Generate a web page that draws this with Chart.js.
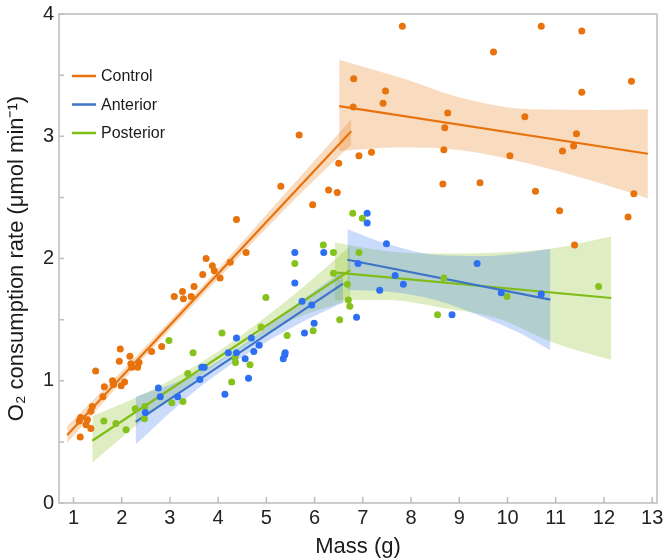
<!DOCTYPE html>
<html>
<head>
<meta charset="utf-8">
<script src="https://cdn.jsdelivr.net/npm/chart.js@4.4.0/dist/chart.umd.min.js"></script>
<style>
  html, body { margin: 0; padding: 0; background: #fff; }
</style>
</head>
<body>
<canvas id="chart" width="664" height="560"></canvas>
<script>
// scatter values: mass (g) and O2 rate
let controlMass = [1.14,1.12,1.15,1.26,1.29,1.36,1.36,1.39,1.46,1.61,1.64,1.81,1.83,1.95,1.97,1.99,2.06,2.17,2.19,2.21,2.33,2.36,2.62,2.83,3.09,3.26,3.28,3.44,3.50,3.68,3.75,3.88,3.92,4.04,4.25,4.38,4.58,5.30,5.68,5.96,6.29,6.47,6.50,6.80,6.81,6.92,7.18,7.42,7.47,7.82,8.66,8.68,8.70,8.76,9.43,9.71,10.05,10.36,10.58,10.70,11.08,11.14,11.37,11.39,11.43,11.54,11.54,12.50,12.57,12.62];
let controlRate = [0.54,0.67,0.70,0.64,0.68,0.75,0.61,0.79,1.08,0.87,0.95,1.00,0.97,1.16,1.26,0.96,0.99,1.20,1.14,1.11,1.11,1.15,1.24,1.28,1.69,1.73,1.67,1.69,1.77,1.87,2.00,1.94,1.90,1.84,1.97,2.32,2.05,2.59,3.01,2.44,2.56,2.54,2.78,3.24,3.47,2.84,2.87,3.27,3.37,3.90,2.61,2.89,3.07,3.19,2.62,3.69,2.84,3.16,2.55,3.90,2.39,2.88,2.92,2.11,3.02,3.86,3.36,2.34,3.45,2.53];

let anteriorMass = [2.49,2.76,2.80,3.16,3.62,3.66,3.71,4.14,4.21,4.38,4.38,4.56,4.63,4.69,4.74,4.85,5.35,5.38,5.39,5.59,5.59,5.74,5.79,5.94,5.99,6.19,6.87,6.90,7.09,7.09,7.35,7.49,7.67,7.84,8.85,9.37,9.87,10.70];
let anteriorRate = [0.74,0.94,0.87,0.87,1.01,1.11,1.11,0.89,1.23,1.23,1.35,1.18,1.02,1.35,1.24,1.29,1.18,1.21,1.23,1.80,2.05,1.65,1.39,1.62,1.47,2.05,1.52,1.96,2.37,2.29,1.74,2.12,1.86,1.79,1.54,1.96,1.72,1.71];

let posteriorMass = [1.63,1.88,2.09,2.28,2.47,2.48,2.98,3.04,3.27,3.37,3.48,4.08,4.28,4.35,4.36,4.66,4.89,4.99,5.43,5.59,5.97,6.18,6.39,6.39,6.52,6.68,6.70,6.73,6.79,6.92,6.99,8.55,8.68,9.99,11.89];
let posteriorRate = [0.67,0.65,0.60,0.77,0.69,0.79,1.33,0.82,0.83,1.06,1.23,1.39,0.99,1.19,1.15,1.13,1.44,1.68,1.37,1.96,1.41,2.11,2.05,1.88,1.50,1.79,1.66,1.61,2.37,2.05,2.33,1.54,1.84,1.69,1.77];

// fitted lines (two segments per group), end points
let controlFit1X = [0.87, 6.76],  controlFit1Y = [0.556, 3.04];
let controlFit2X = [6.51, 12.91], controlFit2Y = [3.246, 2.857];
let anteriorFit1X = [2.29, 6.59], anteriorFit1Y = [0.664, 1.795];
let anteriorFit2X = [6.68, 10.89], anteriorFit2Y = [1.99, 1.664];
let posteriorFit1X = [1.39, 6.74], posteriorFit1Y = [0.509, 1.905];
let posteriorFit2X = [6.40, 12.15], posteriorFit2Y = [1.886, 1.677];

// confidence bands, read at a few masses
let controlBand1X = [0.87, 2.0, 3.8, 5.5, 6.76];
let controlBand1Hi = [0.63, 1.08, 1.83, 2.58, 3.14];
let controlBand1Lo = [0.49, 0.99, 1.75, 2.45, 2.93];
let controlBand2X = [6.51, 7.77, 9.08, 10.46, 11.84, 12.91];
let controlBand2Hi = [3.625, 3.48, 3.31, 3.22, 3.215, 3.22];
let controlBand2Lo = [2.88, 2.91, 2.884, 2.775, 2.625, 2.49];

let anteriorBand1X = [2.29, 3.5, 4.6, 5.6, 6.59];
let anteriorBand1Hi = [0.87, 1.05, 1.32, 1.62, 1.90];
let anteriorBand1Lo = [0.48, 0.91, 1.22, 1.45, 1.64];
let anteriorBand2X = [6.68, 7.5, 8.5, 9.5, 10.2, 10.89];
let anteriorBand2Hi = [2.24, 2.12, 2.03, 2.02, 2.04, 2.08];
let anteriorBand2Lo = [1.74, 1.73, 1.66, 1.52, 1.40, 1.25];

let posteriorBand1X = [1.39, 2.5, 4.0, 5.5, 6.74];
let posteriorBand1Hi = [0.71, 0.90, 1.24, 1.68, 2.10];
let posteriorBand1Lo = [0.33, 0.70, 1.14, 1.49, 1.66];
let posteriorBand2X = [6.42, 7.5, 8.6, 9.8, 10.9, 12.15];
let posteriorBand2Hi = [2.13, 2.06, 2.04, 2.05, 2.08, 2.18];
let posteriorBand2Lo = [1.66, 1.66, 1.60, 1.51, 1.32, 1.17];

let seriesNames = ['Control', 'Anterior', 'Posterior'];
let xTicks = [1,2,3,4,5,6,7,8,9,10,11,12,13];
let yTicks = [0,1,2,3,4];
let yMinor = [0.5,1.5,2.5,3.5];

const pointCol = ['#e8720c', '#2d6ff2', '#86c21d'];
const lineCol  = ['#e8720c', '#3d74c8', '#7fbd14'];
const bandCol  = ['rgba(232,114,12,0.26)', 'rgba(45,111,242,0.25)', 'rgba(130,190,20,0.26)'];
const FONT = "'Liberation Sans', Arial, sans-serif";

function pts(xs, ys) {
    let out = [];
    for (var i=0; i<xs.length; i++) {
        out.push({x: xs[i], y: ys[i]});
    }
    return out;
}

function scatterSet(xs, ys, c) {
    return {type: 'scatter', data: pts(xs, ys), backgroundColor: pointCol[c],
        borderWidth: 0, pointRadius: 3.5, order: 1};
}

function fitSet(xs, ys, c) {
    return {type: 'line', data: pts(xs, ys), borderColor: lineCol[c], borderWidth: 2.2,
        pointRadius: 0, fill: false, order: 2};
}

function bandSets(xs, hi, lo, c) {
    return [
        {type: 'line', data: pts(xs, hi), borderColor: 'rgba(0,0,0,0)', borderWidth: 0,
         backgroundColor: bandCol[c], pointRadius: 0, fill: '+1', cubicInterpolationMode: 'monotone', order: 3},
        {type: 'line', data: pts(xs, lo), borderColor: 'rgba(0,0,0,0)', borderWidth: 0,
         pointRadius: 0, fill: false, cubicInterpolationMode: 'monotone', order: 3}
    ];
}

// axes box with inward ticks, plus the small legend in the corner
const framePlugin = {
    id: 'frame',
    afterDraw(chart) {
        const ctx = chart.ctx, a = chart.chartArea;
        const sx = chart.scales.x, sy = chart.scales.y;
        ctx.save();
        ctx.strokeStyle = '#bdbdbd';
        ctx.lineWidth = 1.5;
        ctx.strokeRect(a.left, a.top, a.right - a.left, a.bottom - a.top);
        ctx.beginPath();
        xTicks.forEach(v => {
            const px = sx.getPixelForValue(v);
            ctx.moveTo(px, a.bottom); ctx.lineTo(px, a.bottom - 6);
        });
        yTicks.concat(yMinor).forEach(v => {
            const py = sy.getPixelForValue(v);
            ctx.moveTo(a.left, py); ctx.lineTo(a.left + 5, py);
        });
        ctx.stroke();

        ctx.font = '16px ' + FONT;
        ctx.textBaseline = 'middle';
        ctx.fillStyle = '#1a1a1a';
        for (var i=0; i<seriesNames.length; i++) {
            const y = 76 + i * 28.5;
            ctx.strokeStyle = lineCol[i];
            ctx.lineWidth = 2.5;
            ctx.beginPath(); ctx.moveTo(72, y); ctx.lineTo(96, y); ctx.stroke();
            ctx.fillText(seriesNames[i], 101, y + 1);
        }
        ctx.restore();
    }
};

function initChart() {
    const ctx = document.getElementById('chart').getContext('2d');
    let datasets = [
        scatterSet(controlMass, controlRate, 0),
        scatterSet(anteriorMass, anteriorRate, 1),
        scatterSet(posteriorMass, posteriorRate, 2),
        fitSet(controlFit1X, controlFit1Y, 0),
        fitSet(controlFit2X, controlFit2Y, 0),
        fitSet(anteriorFit1X, anteriorFit1Y, 1),
        fitSet(anteriorFit2X, anteriorFit2Y, 1),
        fitSet(posteriorFit1X, posteriorFit1Y, 2),
        fitSet(posteriorFit2X, posteriorFit2Y, 2)
    ];
    datasets = datasets.concat(
        bandSets(controlBand1X, controlBand1Hi, controlBand1Lo, 0),
        bandSets(controlBand2X, controlBand2Hi, controlBand2Lo, 0),
        bandSets(anteriorBand1X, anteriorBand1Hi, anteriorBand1Lo, 1),
        bandSets(anteriorBand2X, anteriorBand2Hi, anteriorBand2Lo, 1),
        bandSets(posteriorBand1X, posteriorBand1Hi, posteriorBand1Lo, 2),
        bandSets(posteriorBand2X, posteriorBand2Hi, posteriorBand2Lo, 2)
    );

    return new Chart(ctx, {
        type: 'scatter',
        data: {datasets: datasets},
        options: {
            responsive: false,
            animation: false,
            events: [],
            layout: {padding: {top: 14, right: 7, left: 0, bottom: 0}},
            plugins: {legend: {display: false}, tooltip: {enabled: false}},
            scales: {
                x: {
                    type: 'linear', min: 0.7, max: 13.1,
                    grid: {display: false, drawTicks: false}, border: {display: false},
                    afterBuildTicks: s => { s.ticks = xTicks.map(v => ({value: v})); },
                    afterFit: s => { s.height = 57; s.paddingLeft = 0; s.paddingRight = 0; },
                    ticks: {font: {family: FONT, size: 20}, color: '#222', padding: 3, maxRotation: 0},
                    title: {display: true, text: 'Mass (g)', font: {family: FONT, size: 22},
                        color: '#1a1a1a', padding: {top: 0, bottom: 0}}
                },
                y: {
                    type: 'linear', min: 0, max: 4,
                    grid: {display: false, drawTicks: false}, border: {display: false},
                    afterBuildTicks: s => { s.ticks = yTicks.map(v => ({value: v})); },
                    afterFit: s => { s.width = 59; s.paddingTop = 0; s.paddingBottom = 0; },
                    ticks: {font: {family: FONT, size: 20}, color: '#222', padding: 5},
                    title: {display: true, text: 'O\u2082 consumption rate (\u03bcmol min\u207b\u00b9)',
                        font: {family: FONT, size: 22}, color: '#1a1a1a', padding: {top: 4, bottom: 4}}
                }
            }
        },
        plugins: [framePlugin]
    });
}

initChart();
</script>
</body>
</html>
